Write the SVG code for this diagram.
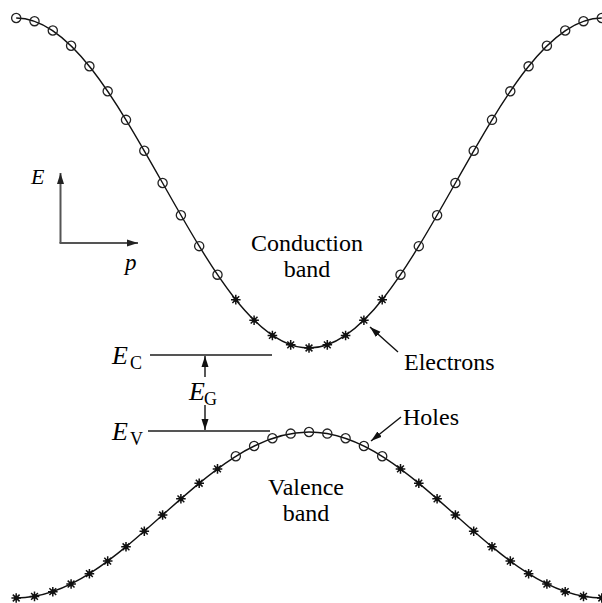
<svg xmlns="http://www.w3.org/2000/svg" xmlns:xlink="http://www.w3.org/1999/xlink" width="602" height="603" viewBox="0 0 602 603">
<style>
  .curve { fill: none; stroke: #111; stroke-width: 1.4; }
  .lvl { fill: none; stroke: #555; stroke-width: 2; }
  .axis { fill: none; stroke: #555; stroke-width: 2; }
  .arr { fill: none; stroke: #111; stroke-width: 1.4; }
  .t { font-family: "Liberation Serif", "Times New Roman", serif; fill: #000; }
  .lbl { font-size: 24px; }
  .it { font-style: italic; }
</style>
<defs>
  <marker id="ah" markerUnits="userSpaceOnUse" markerWidth="12" markerHeight="8" refX="11" refY="4" orient="auto">
    <path d="M0,0.5 L11,4 L0,7.5 z" fill="#111"/>
  </marker>
  <marker id="ahg" markerUnits="userSpaceOnUse" markerWidth="12" markerHeight="8" refX="11" refY="4" orient="auto">
    <path d="M0,0.5 L11,4 L0,7.5 z" fill="#222"/>
  </marker>
  <g id="o"><circle r="4.6" fill="none" stroke="#222" stroke-width="1.3"/></g>
  <g id="a">
    <path d="M-4.8,0 H4.8 M0,-4.8 V4.8 M-3.4,-3.4 L3.4,3.4 M-3.4,3.4 L3.4,-3.4" stroke="#111" stroke-width="1.5"/>
    <circle r="2.4" fill="#111"/>
  </g>
</defs>
<rect width="602" height="603" fill="#fff"/>

<g id="conduction-band">
  <path class="curve" d="M16.2,18 C69.19,18 114.85,98.47 162.6,183 C210.35,267.53 256.02,348 309,348 C361.98,348 407.65,267.53 455.4,183 C503.15,98.47 548.81,18 601.8,18"/>
  <use xlink:href="#o" x="16.2" y="18"/>
  <use xlink:href="#o" x="34.5" y="21.17"/>
  <use xlink:href="#o" x="52.8" y="30.56"/>
  <use xlink:href="#o" x="71.1" y="45.81"/>
  <use xlink:href="#o" x="89.4" y="66.33"/>
  <use xlink:href="#o" x="107.7" y="91.33"/>
  <use xlink:href="#o" x="126" y="119.86"/>
  <use xlink:href="#o" x="144.3" y="150.81"/>
  <use xlink:href="#o" x="162.6" y="183"/>
  <use xlink:href="#o" x="180.9" y="215.19"/>
  <use xlink:href="#o" x="199.2" y="246.14"/>
  <use xlink:href="#o" x="217.5" y="274.67"/>
  <use xlink:href="#a" x="235.8" y="299.67"/>
  <use xlink:href="#a" x="254.1" y="320.19"/>
  <use xlink:href="#a" x="272.4" y="335.44"/>
  <use xlink:href="#a" x="290.7" y="344.83"/>
  <use xlink:href="#a" x="309" y="348"/>
  <use xlink:href="#a" x="327.3" y="344.83"/>
  <use xlink:href="#a" x="345.6" y="335.44"/>
  <use xlink:href="#a" x="363.9" y="320.19"/>
  <use xlink:href="#a" x="382.2" y="299.67"/>
  <use xlink:href="#o" x="400.5" y="274.67"/>
  <use xlink:href="#o" x="418.8" y="246.14"/>
  <use xlink:href="#o" x="437.1" y="215.19"/>
  <use xlink:href="#o" x="455.4" y="183"/>
  <use xlink:href="#o" x="473.7" y="150.81"/>
  <use xlink:href="#o" x="492" y="119.86"/>
  <use xlink:href="#o" x="510.3" y="91.33"/>
  <use xlink:href="#o" x="528.6" y="66.33"/>
  <use xlink:href="#o" x="546.9" y="45.81"/>
  <use xlink:href="#o" x="565.2" y="30.56"/>
  <use xlink:href="#o" x="583.5" y="21.17"/>
  <use xlink:href="#o" x="601.8" y="18"/>
</g>

<g id="valence-band">
  <path class="curve" d="M16.2,598 C69.19,598 114.85,557.52 162.6,515 C210.35,472.48 256.02,432 309,432 C361.98,432 407.65,472.48 455.4,515 C503.15,557.52 548.81,598 601.8,598"/>
  <use xlink:href="#a" x="16.2" y="598"/>
  <use xlink:href="#a" x="34.5" y="596.41"/>
  <use xlink:href="#a" x="52.8" y="591.68"/>
  <use xlink:href="#a" x="71.1" y="584.01"/>
  <use xlink:href="#a" x="89.4" y="573.69"/>
  <use xlink:href="#a" x="107.7" y="561.11"/>
  <use xlink:href="#a" x="126" y="546.76"/>
  <use xlink:href="#a" x="144.3" y="531.19"/>
  <use xlink:href="#a" x="162.6" y="515"/>
  <use xlink:href="#a" x="180.9" y="498.81"/>
  <use xlink:href="#a" x="199.2" y="483.24"/>
  <use xlink:href="#a" x="217.5" y="468.89"/>
  <use xlink:href="#o" x="235.8" y="456.31"/>
  <use xlink:href="#o" x="254.1" y="445.99"/>
  <use xlink:href="#o" x="272.4" y="438.32"/>
  <use xlink:href="#o" x="290.7" y="433.59"/>
  <use xlink:href="#o" x="309" y="432"/>
  <use xlink:href="#o" x="327.3" y="433.59"/>
  <use xlink:href="#o" x="345.6" y="438.32"/>
  <use xlink:href="#o" x="363.9" y="445.99"/>
  <use xlink:href="#o" x="382.2" y="456.31"/>
  <use xlink:href="#a" x="400.5" y="468.89"/>
  <use xlink:href="#a" x="418.8" y="483.24"/>
  <use xlink:href="#a" x="437.1" y="498.81"/>
  <use xlink:href="#a" x="455.4" y="515"/>
  <use xlink:href="#a" x="473.7" y="531.19"/>
  <use xlink:href="#a" x="492" y="546.76"/>
  <use xlink:href="#a" x="510.3" y="561.11"/>
  <use xlink:href="#a" x="528.6" y="573.69"/>
  <use xlink:href="#a" x="546.9" y="584.01"/>
  <use xlink:href="#a" x="565.2" y="591.68"/>
  <use xlink:href="#a" x="583.5" y="596.41"/>
  <use xlink:href="#a" x="601.8" y="598"/>
</g>

<g id="axes">
  <path class="axis" d="M60.5,243 V173" marker-end="url(#ahg)"/>
  <path class="axis" d="M59.5,243 H138" marker-end="url(#ahg)"/>
  <text class="t it" x="31" y="184" font-size="22">E</text>
  <text class="t it" x="125" y="270" font-size="23">p</text>
</g>

<g id="level-EC">
  <line class="lvl" x1="150" y1="355" x2="272" y2="355"/>
  <text class="t it" x="112" y="364" font-size="26">E</text>
  <text class="t" x="130" y="369" font-size="18">C</text>
</g>

<g id="level-EV">
  <line class="lvl" x1="148" y1="431" x2="270" y2="431"/>
  <text class="t it" x="112" y="440" font-size="26">E</text>
  <text class="t" x="130" y="445" font-size="18">V</text>
</g>

<g id="gap-label">
  <text class="t it" x="189" y="400" font-size="26">E</text>
  <text class="t" x="204" y="405" font-size="18">G</text>
</g>

<g id="conduction-label">
  <text class="t lbl" x="307" y="251" text-anchor="middle">Conduction</text>
  <text class="t lbl" x="307" y="277" text-anchor="middle">band</text>
</g>

<g id="valence-label">
  <text class="t lbl" x="306" y="495" text-anchor="middle">Valence</text>
  <text class="t lbl" x="306" y="521" text-anchor="middle">band</text>
</g>

<g id="electrons-label">
  <text class="t lbl" x="404" y="370">Electrons</text>
</g>

<g id="holes-label">
  <text class="t lbl" x="403" y="425">Holes</text>
</g>

<g id="connectors">
  <path class="arr" d="M205,377 V356" marker-end="url(#ah)"/>
  <path class="arr" d="M205,405 V430" marker-end="url(#ah)"/>
  <path class="arr" d="M398,352 L370,327" marker-end="url(#ah)"/>
  <path class="arr" d="M401,417 L371,441" marker-end="url(#ah)"/>
</g>
</svg>
